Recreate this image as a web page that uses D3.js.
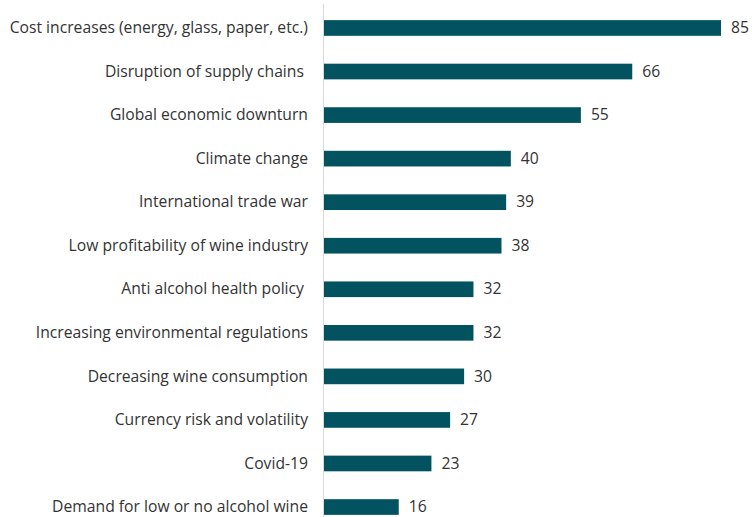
<!DOCTYPE html>
<html>
<head>
<meta charset="utf-8">
<script src="https://cdn.jsdelivr.net/npm/d3@7"></script>
<style>
  body { margin: 0; background: #fff; }
  svg text { font-family: "Open Sans", Lato, sans-serif; white-space: pre; }
</style>
</head>
<body>
<svg class="chart"></svg>
<script>
const categories = [
  'Cost increases (energy, glass, paper, etc.)',
  'Disruption of supply chains ',
  'Global economic downturn',
  'Climate change',
  'International trade war',
  'Low profitability of wine industry',
  'Anti alcohol health policy ',
  'Increasing environmental regulations',
  'Decreasing wine consumption',
  'Currency risk and volatility',
  'Covid-19',
  'Demand for low or no alcohol wine'
];
const values = [85, 66, 55, 40, 39, 38, 32, 32, 30, 27, 23, 16];

const width = 752, height = 517;

const svg = d3.select('.chart')
  .attr('width', width)
  .attr('height', height);

const xScale = d3.scaleLinear()
  .domain([0, 85])
  .range([324, 721]);

const yScale = d3.scaleBand()
  .domain(categories)
  .range([6.2, 528.8])
  .paddingInner(0.64)
  .paddingOuter(0.32);

// axis line
svg.append('line')
  .attr('x1', xScale(0) - 0.5).attr('x2', xScale(0) - 0.5)
  .attr('y1', 4).attr('y2', height)
  .attr('stroke', '#d9d9d9')
  .attr('stroke-width', 1);

svg.selectAll('rect.bar')
  .data(values)
  .enter().append('rect')
  .attr('class', 'bar')
  .attr('x', xScale(0))
  .attr('y', (d, i) => yScale(categories[i]))
  .attr('width', d => xScale(d) - xScale(0))
  .attr('height', yScale.bandwidth())
  .attr('fill', '#02535f');

svg.selectAll('text.cat')
  .data(categories)
  .enter().append('text')
  .attr('class', 'cat')
  .attr('x', 308)
  .attr('y', d => yScale(d) + yScale.bandwidth() / 2)
  .attr('dy', '0.33em')
  .style('text-anchor', 'end')
  .style('font-size', '15.7px')
  .style('fill', '#333')
  .text(d => d);

svg.selectAll('text.val')
  .data(values)
  .enter().append('text')
  .attr('class', 'val')
  .attr('x', d => xScale(d) + 10)
  .attr('y', (d, i) => yScale(categories[i]) + yScale.bandwidth() / 2)
  .attr('dy', '0.33em')
  .style('font-size', '15.7px')
  .style('fill', '#333')
  .text(d => d);
</script>
</body>
</html>
